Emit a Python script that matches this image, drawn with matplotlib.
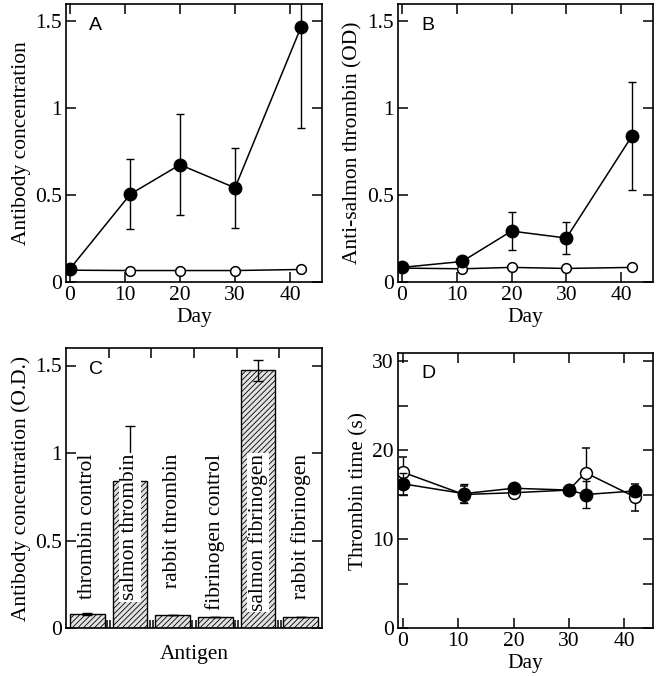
import matplotlib.pyplot as plt
from matplotlib.ticker import MultipleLocator

plt.rcParams['font.family'] = ['Liberation Serif', 'DejaVu Serif']
plt.rcParams['font.size'] = 15.5
plt.rcParams['hatch.color'] = '#9a9a9a'
plt.rcParams['hatch.linewidth'] = 0.6

# Panel A: antibody concentration
days_a = [0, 11, 20, 30, 42]
a_filled = [0.075, 0.506, 0.675, 0.542, 1.468]
a_filled_err = [0.0, 0.2, 0.29, 0.23, 0.58]
a_open = [0.068, 0.066, 0.066, 0.066, 0.072]

# Panel B: anti-salmon thrombin
days_b = [0, 11, 20, 30, 42]
b_filled = [0.084, 0.118, 0.293, 0.253, 0.842]
b_filled_err = [0.0, 0.02, 0.11, 0.09, 0.31]
b_open = [0.08, 0.076, 0.084, 0.078, 0.084]

# Panel C: antibody by antigen
antigens = ['thrombin control', 'salmon thrombin', 'rabbit thrombin',
            'fibrinogen control', 'salmon fibrinogen', 'rabbit fibrinogen']
c_values = [0.079, 0.842, 0.073, 0.062, 1.473, 0.062]
c_err = [0.006, 0.31, 0.0, 0.0, 0.06, 0.0]

# Panel D: thrombin time
days_d = [0, 11, 20, 30, 33, 42]
d_open = [17.5, 15.0, 15.2, 15.5, 17.45, 14.7]
d_open_err = [1.7, 1.0, 0.6, 0.0, 2.8, 1.5]
d_filled = [16.2, 15.1, 15.7, 15.5, 15.0, 15.4]
d_filled_err = [1.2, 1.05, 0.4, 0.0, 1.5, 0.6]

fig = plt.figure(figsize=(6.58, 6.76), dpi=100)
W, H = 658.0, 676.0


def make_ax(left, top, right, bottom):
    return fig.add_axes([left / W, 1 - bottom / H, (right - left) / W, (bottom - top) / H])


def style(ax):
    for s in ax.spines.values():
        s.set_linewidth(1.2)
    ax.tick_params(which='both', direction='in', top=True, right=True,
                   length=7, width=1.1, labelsize=15.5, pad=3)


def panel_letter(ax, letter):
    ax.text(0.09, 0.955, letter, transform=ax.transAxes, ha='left', va='top',
            fontsize=14, family=['Liberation Sans', 'DejaVu Sans'])


def time_panel(ax, days, filled, filled_err, opn, ylabel, letter):
    ax.errorbar(days, filled, yerr=filled_err, fmt='-o', color='black', lw=1.1,
                ms=9, mfc='black', capsize=3.2, elinewidth=1.0, capthick=1.0, zorder=3)
    ax.plot(days, opn, '-o', color='black', lw=1.1, ms=7, mfc='white', mew=1.1, zorder=2)
    ax.set_xlim(-0.7, 45.8)
    ax.set_ylim(0, 1.6)
    ax.xaxis.set_major_locator(MultipleLocator(10))
    ax.set_yticks([0, 0.5, 1, 1.5])
    ax.set_yticklabels(['0', '0.5', '1', '1.5'])
    ax.set_xlabel('Day', labelpad=2)
    ax.set_ylabel(ylabel, labelpad=3)
    style(ax)
    panel_letter(ax, letter)


ax_a = make_ax(66, 4, 322, 282)
time_panel(ax_a, days_a, a_filled, a_filled_err, a_open, 'Antibody concentration', 'A')

ax_b = make_ax(398, 4, 653, 282)
time_panel(ax_b, days_b, b_filled, b_filled_err, b_open, 'Anti-salmon thrombin (OD)', 'B')

# Panel C
ax_c = make_ax(66, 348, 322, 628)
pos = list(range(len(antigens)))
ax_c.bar(pos, c_values, width=0.81, color='#e2e2e2', edgecolor='black', lw=1.0,
         hatch='//////', zorder=2)
ax_c.errorbar(pos, c_values, yerr=c_err, fmt='none', ecolor='black', capsize=3.5,
              elinewidth=1.0, capthick=1.0, zorder=3)
for p, name in zip(pos, antigens):
    ax_c.text(p, 0.995, name, rotation=90, ha='center', va='top', fontsize=15.5, zorder=4,
              bbox=dict(facecolor='white', edgecolor='none', pad=1.0))
ax_c.set_xlim(-0.5, 5.5)
ax_c.set_ylim(0, 1.6)
ax_c.set_yticks([0, 0.5, 1, 1.5])
ax_c.set_yticklabels(['0', '0.5', '1', '1.5'])
ax_c.set_xticks([0.5, 1.5, 2.5, 3.5, 4.5])
ax_c.set_xticklabels([])
# paired short ticks along the bottom edge at bar boundaries
ax_c.set_xticks([0.46, 0.54, 1.46, 1.54, 2.46, 2.54, 3.46, 3.54, 4.46, 4.54], minor=True)
ax_c.set_xlabel('Antigen', labelpad=9)
ax_c.set_ylabel('Antibody concentration (O.D.)', labelpad=3)
style(ax_c)
ax_c.tick_params(axis='x', which='major', bottom=False)
ax_c.tick_params(axis='x', which='minor', top=False, bottom=True, length=6)
panel_letter(ax_c, 'C')

# Panel D
ax_d = make_ax(398, 353, 653, 628)
ax_d.errorbar(days_d, d_open, yerr=d_open_err, fmt='-o', color='black', lw=1.1,
              ms=8.5, mfc='white', mew=1.1, capsize=3.2, elinewidth=1.0, capthick=1.0, zorder=2)
ax_d.errorbar(days_d, d_filled, yerr=d_filled_err, fmt='-o', color='black', lw=1.1,
              ms=9, mfc='black', capsize=3.2, elinewidth=1.0, capthick=1.0, zorder=3)
ax_d.set_xlim(-0.9, 45.2)
ax_d.set_ylim(0, 30.9)
ax_d.xaxis.set_major_locator(MultipleLocator(10))
ax_d.yaxis.set_major_locator(MultipleLocator(10))
ax_d.yaxis.set_minor_locator(MultipleLocator(5))
ax_d.set_xlabel('Day', labelpad=2)
ax_d.set_ylabel('Thrombin time (s)', labelpad=3)
style(ax_d)
panel_letter(ax_d, 'D')

fig.savefig('out.png', dpi=100)
